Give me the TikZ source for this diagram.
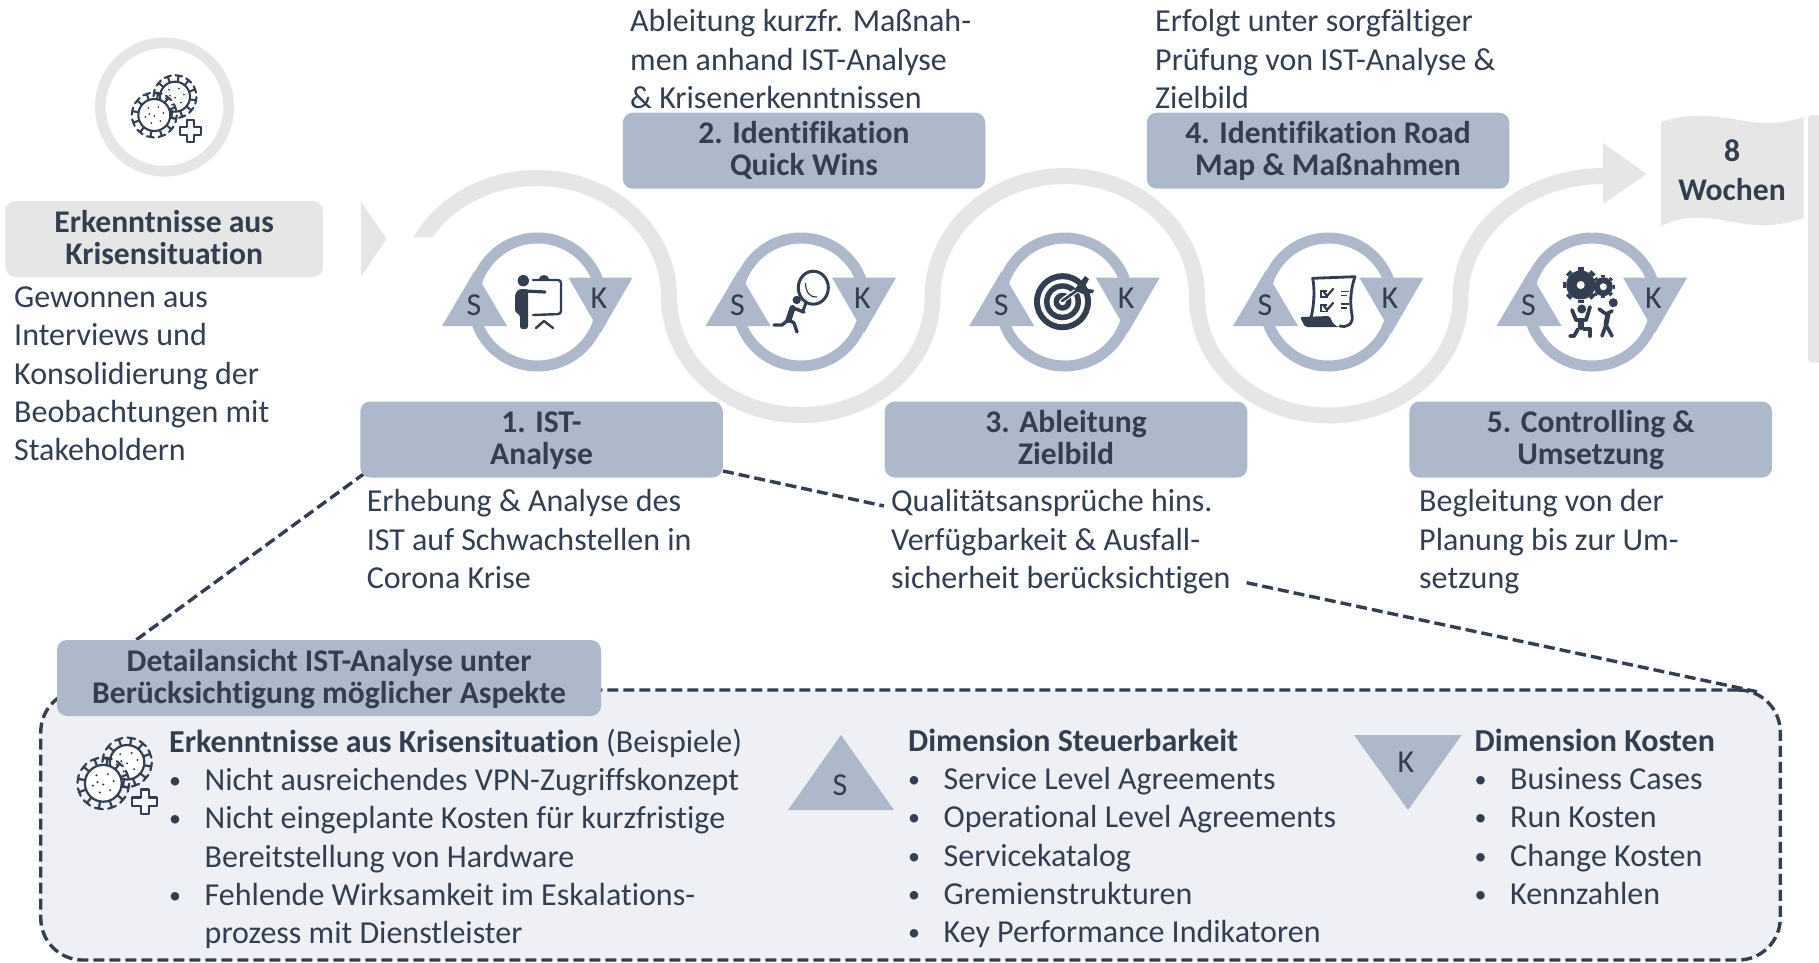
\documentclass[tikz,border=0pt]{standalone}
\usepackage{fontspec}
\setmainfont{Carlito}[Ligatures=NoCommon]
\definecolor{dark}{HTML}{333F50}
\definecolor{blueb}{HTML}{ADB9CA}
\definecolor{grayb}{HTML}{E7E6E6}
\definecolor{panelb}{HTML}{EEF0F5}
\newcommand\bodyfont{\fontsize{32}{38.3}\selectfont}
\newcommand\titlefont{\fontsize{31.6}{32}\selectfont\bfseries}
\newcommand\ts{\rule[-7pt]{0pt}{32pt}}
\newcommand\bul{\makebox[35.5pt][l]{\raisebox{2pt}{\fontsize{24}{24}\selectfont •}}}
\newcommand\nobul{\makebox[35.5pt][l]{}}
\tikzset{
  body/.style={font=\bodyfont,text=dark,align=left,anchor=north west,inner sep=0pt},
  titlebox/.style={rectangle,rounded corners=10pt,minimum width=362.5pt,minimum height=76pt,inner sep=0pt,fill=blueb,font=\titlefont,text=dark,align=center},
  dashline/.style={draw=dark,line width=3.4pt,dash pattern=on 11pt off 5pt},
  ring/.style={draw=blueb,line width=11pt},
  serp/.style={draw=grayb,line width=16pt},
  tri/.style={fill=blueb},
  letter/.style={font=\bodyfont,text=dark,inner sep=0pt},
  ico/.style={draw=dark,line cap=round,line join=round},
}
\newcommand\oneVirus[4]{% x y circle-radius linewidth
  \begin{scope}[shift={(#1,#2)}]
  \fill[white] (0,0) circle (#3pt);
  \draw[ico,line width=#4pt] (0,0) circle (#3pt);
  \foreach \a in {10,40,...,340}{
    \draw[ico,line width=#4pt] (\a:#3) -- (\a:#3+6.5);
    \draw[ico,line width=#4pt] (\a+9:#3+6.5) -- (\a-9:#3+6.5);
  }
  \foreach \p/\q in {-6/-7,4/-8,9/-2,-9/2,0/1,6/6,-3/8,-5/-1}{
    \fill[dark] (\p,\q) circle (1pt);
  }
  \end{scope}}
\newcommand\virusIcon[4]{% x y scale linewidth
  \begin{scope}[shift={(#1,#2)},scale=#3]
  \oneVirus{20.7}{-18.3}{15}{#4}
  \oneVirus{0}{0}{16}{#4}
  \draw[ico,line width=#4pt,fill=white] (25.3,16-3.6) -- ++(7.5,0) -- ++(0,-7) -- ++(7.2,0) -- ++(0,7) -- ++(7,0) -- ++(0,7.2) -- ++(-7,0) -- ++(0,7) -- ++(-7.2,0) -- ++(0,-7) -- ++(-7.5,0) -- cycle;
  \end{scope}}
\newcommand\gear[4]{% x y r hole
  \fill[dark] (#1,#2) circle (#3pt);
  \foreach \a in {0,45,...,315}{
    \draw[dark,line width=#3*0.4pt] ($(#1,#2)+(\a:#3)$) -- ($(#1,#2)+(\a:#3+#3*0.24)$);
  }
  \fill[white] (#1,#2) circle (#4pt);}
\usetikzlibrary{calc}
\begin{document}
\begin{tikzpicture}[x=1pt,y=-1pt]
\useasboundingbox (0,0) rectangle (1819,962);
\fill[white] (0,0) rectangle (1819,962);

% start circle and virus
\draw[draw=grayb,line width=10.7pt] (164.5,107) circle (64.2pt);
\virusIcon{154.3}{115}{1}{2.1}

% serpentine
\begin{scope}
\clip (0,0) -- (1819,0) -- (1819,962) -- (537,962) -- (537,237) -- (0,237) -- cycle;
\draw[serp] (405,297) .. controls (405,231) and (464,178) .. (537,178)
 .. controls (610,178) and (669,231) .. (669,297)
 .. controls (669,363) and (728,415) .. (801,415)
 .. controls (874,415) and (932.5,363) .. (932.5,297)
 .. controls (932.5,231) and (992,176) .. (1065,176)
 .. controls (1138,176) and (1197,231) .. (1197,297)
 .. controls (1197,363) and (1255.5,415.5) .. (1328.5,415.5)
 .. controls (1401.5,415.5) and (1460.5,363) .. (1460.5,297)
 .. controls (1460.5,231) and (1525,176) .. (1603,176);
\end{scope}
\fill[grayb] (1603,143) -- (1646.6,174) -- (1603,204) -- cycle;
\fill[grayb] (361,201.7) -- (386.5,239) -- (361,276.7) -- cycle;

% flag and pole
\fill[grayb] (1661,122) .. controls (1690,112) and (1715,116) .. (1745,121) .. controls (1770,125) and (1785,123) .. (1803.6,117) -- (1803.6,218) .. controls (1785,224) and (1770,227) .. (1745,224) .. controls (1715,219) and (1690,212) .. (1661,226) -- cycle;
\fill[grayb,rounded corners=4pt] (1808,115) rectangle (1825,362.7);
\node[font=\fontsize{31.6}{39}\selectfont\bfseries,text=dark,align=center,inner sep=0pt] (flag) at (1732,170.5) {8\\Wochen};

% S/K rings
\foreach \c in {537.5,801,1064.7,1328.5,1592}{
  \draw[ring] (\c,302) circle (64pt);
  \fill[tri] (\c-32.5-63,326) -- (\c+32.5-63,326) -- (\c-63,271) -- cycle;
  \fill[tri] (\c-32+63,277.7) -- (\c+32+63,277.7) -- (\c+63,333) -- cycle;
  \node[letter] at (\c-63.5,305) {S};
  \node[letter] at (\c+61.5,298) {K};
}

% dashed panel
\node[rectangle,rounded corners=42pt,minimum width=1739.5pt,minimum height=270pt,inner sep=0pt,fill=panelb,dashline] (panel) at (910.5,825) {};

% connectors
\coordinate (c1a) at (365,473);
\coordinate (c1b) at (136,640);
\coordinate (c2a) at (723,471);
\coordinate (c2b) at (884,506);
\coordinate (c3a) at (1246.6,582.7);
\coordinate (c3b) at (1757,691.7);
\draw[dashline] (c1a) -- (c1b);
\draw[dashline] (c2a) -- (c2b);
\draw[dashline] (c3a) -- (c3b);

% boxes
\node[titlebox,minimum width=317.5pt,fill=grayb] (b0) at (164.2,239) {\ts Erkenntnisse aus\\\ts Krisensituation};
\node[titlebox] (b1) at (541.5,439.5) {\ts 1. IST-\\\ts Analyse};
\node[titlebox] (b2) at (804,150.7) {\ts 2. Identifikation\\\ts Quick Wins};
\node[titlebox] (b3) at (1066,439.5) {\ts 3. Ableitung\\\ts Zielbild};
\node[titlebox] (b4) at (1328,150.7) {\ts 4. Identifikation Road\\\ts Map \& Maßnahmen};
\node[titlebox] (b5) at (1590.7,439.5) {\ts 5. Controlling \&\\\ts Umsetzung};
\node[titlebox,minimum width=544pt] (detail) at (329,678) {\ts Detailansicht IST-Analyse unter\\\ts Berücksichtigung möglicher Aspekte};

% free texts
\node[body] (t0) at (14,286.5) {Gewonnen aus\\Interviews und\\Konsolidierung der\\Beobachtungen mit\\Stakeholdern};
\node[body] (t1) at (366.6,489.5) {Erhebung \& Analyse des\\IST auf Schwachstellen in\\Corona Krise};
\node[body] (t2) at (630,9.5) {Ableitung kurzfr. Maßnah-\\men anhand IST-Analyse\\\& Krisenerkenntnissen};
\node[body] (t3) at (891,489.5) {Qualitätsansprüche hins.\\Verfügbarkeit \& Ausfall-\\sicherheit berücksichtigen};
\node[body] (t4) at (1155,9.5) {Erfolgt unter sorgfältiger\\Prüfung von IST-Analyse \&\\Zielbild};
\node[body] (t5) at (1419,489.5) {Begleitung von der\\Planung bis zur Um-\\setzung};

% panel texts
\virusIcon{103.3}{783.3}{1.15}{2.2}
\node[body] (p1) at (169,728.5) {\textbf{Erkenntnisse aus Krisensituation} (Beispiele)\\
\bul Nicht ausreichendes VPN-Zugriffskonzept\\
\bul Nicht eingeplante Kosten für kurzfristige\\
\nobul Bereitstellung von Hardware\\
\bul Fehlende Wirksamkeit im Eskalations-\\
\nobul prozess mit Dienstleister};
\node[body] (p2) at (908,728.5) {\textbf{Dimension Steuerbarkeit}\\
\bul Service Level Agreements\\
\bul Operational Level Agreements\\
\bul Servicekatalog\\
\bul Gremienstrukturen\\
\bul Key Performance Indikatoren};
\node[body] (p3) at (1474.5,728.5) {\textbf{Dimension Kosten}\\
\bul Business Cases\\
\bul Run Kosten\\
\bul Change Kosten\\
\bul Kennzahlen};
\fill[tri] (788,810) -- (894,810) -- (841,735) -- cycle;
\fill[tri] (1354,735) -- (1461.7,735) -- (1408,810) -- cycle;
\node[letter] (ls) at (840,785) {S};
\node[letter] (lk) at (1406,762) {K};

% presenter
\begin{scope}
\fill[dark] (523.3,280.7) circle (5.7pt);
\fill[dark,rounded corners=2.5pt] (515,294) -- (519,289) -- (528,289) -- (528,329) -- (520,329) -- (520,315) -- (515,312) -- cycle;
\draw[ico,line width=3.2pt] (525,291) -- (545,292);
\draw[ico,line width=2.4pt,rounded corners=3pt] (533,280) -- (561,280) -- (561,314) -- (533,315);
\fill[dark] (539,279) arc[start angle=180,end angle=360,x radius=5pt,y radius=-4pt] -- cycle;
\draw[ico,line width=2.4pt] (536,328) -- (544,321) -- (553,328);
\end{scope}

% magnifier person
\begin{scope}
\draw[dark,line width=3pt] (813.3,287.7) ellipse (15pt and 16.5pt);
\draw[dark,line width=1.2pt] (805.5,283) .. controls (805.5,293) and (811,298) .. (817,297);
\draw[dark,line width=3pt] (806,303) -- (802,313);
\fill[dark] (796.7,300) circle (4.2pt);
\draw[ico,line width=6pt] (792.5,308) -- (788.5,320);
\draw[ico,line width=3.4pt] (793,308) -- (804,312);
\draw[ico,line width=3.4pt] (788,320) -- (782,325) -- (774,325);
\draw[ico,line width=3.4pt] (789,320) -- (794,323) -- (797,332);
\end{scope}

% target
\begin{scope}
\fill[dark] (1062.5,301.7) circle (28.5pt);
\fill[white] (1062.5,301.7) circle (22.5pt);
\fill[dark] (1062.5,301.7) circle (18.5pt);
\fill[white] (1062.5,301.7) circle (13pt);
\fill[dark] (1062.5,301.7) circle (9pt);
\fill[white] (1062.5,301.7) circle (3.5pt);
\draw[white,line width=5pt] (1063,300) -- (1082,287);
\draw[dark,line width=2.6pt,line cap=round] (1062,301) -- (1082,287);
\fill[dark] (1074,290) -- (1085,276) -- (1089,279) -- (1084,288) -- (1094,290) -- (1093,293) -- (1083,294) -- cycle;
\end{scope}

% checklist
\begin{scope}
\draw[ico,line width=2.8pt] (1312.7,278.3) -- (1355,276.7) .. controls (1350,290) and (1350,305) .. (1352,315) .. controls (1354,325) and (1345,328) .. (1340,326);
\draw[ico,line width=2.8pt] (1312.7,278.3) .. controls (1315,290) and (1314,305) .. (1311,318);
\fill[dark,rounded corners=2pt] (1300,317) -- (1330,316) .. controls (1332,323) and (1336,327) .. (1342,327) -- (1305,327) -- cycle;
\draw[dark,line width=1.8pt] (1327,291) -- (1321,291) -- (1321,297) -- (1328,297);
\draw[dark,line width=1.8pt] (1327,305) -- (1321,305) -- (1321,311.5) -- (1328,311.5);
\draw[ico,line width=2.2pt] (1324,292) -- (1327,296) -- (1333,289);
\draw[ico,line width=2.2pt] (1324,306) -- (1327,310) -- (1333,303);
\draw[dark,line width=1.8pt] (1341,291.5) -- (1349,291.5) (1341,295.5) -- (1347,295.5) (1341,304) -- (1349,304) (1341,308) -- (1347,308);
\end{scope}

% gears and people
\begin{scope}
\gear{1580.7}{285}{14.5}{4}
\gear{1603.3}{286.7}{9.5}{3.5}
\fill[dark] (1581.7,309) circle (4.5pt);
\draw[ico,line width=3.8pt] (1572,310) -- (1576,320) -- (1586,320) -- (1590,307);
\draw[ico,line width=6pt] (1581,321) -- (1581,327);
\draw[ico,line width=3.8pt] (1578,329) -- (1574,336) -- (1570,336);
\draw[ico,line width=3.8pt] (1584,329) -- (1590,329) -- (1590,336);
\fill[dark] (1613.3,302.7) circle (4.5pt);
\draw[ico,line width=5pt] (1608,314) -- (1606,324);
\draw[ico,line width=3.6pt] (1599,309) -- (1606,314) -- (1612,311);
\draw[ico,line width=3.6pt] (1606,325) -- (1602,336);
\draw[ico,line width=3.6pt] (1606,325) -- (1612,336);
\end{scope}
\end{tikzpicture}
\end{document}
